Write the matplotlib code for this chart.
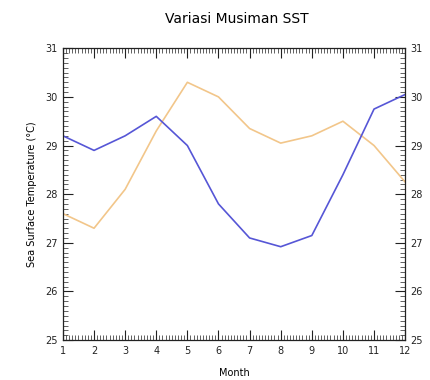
import matplotlib
matplotlib.use("Agg")
import matplotlib.pyplot as plt
from matplotlib.ticker import MultipleLocator

months = [1, 2, 3, 4, 5, 6, 7, 8, 9, 10, 11, 12]
sst_blue = [29.2, 28.9, 29.2, 29.6, 29.0, 27.8, 27.1, 26.92, 27.15, 28.4, 29.75, 30.05]
sst_orange = [27.6, 27.3, 28.1, 29.3, 30.3, 30.0, 29.35, 29.05, 29.2, 29.5, 29.0, 28.25]
x_ticks = months
y_ticks = [25, 26, 27, 28, 29, 30, 31]

fig = plt.figure(figsize=(4.31, 3.80), dpi=100)
ax = fig.add_axes([0.146, 0.105, 0.794, 0.768])

ax.plot(months, sst_orange, color="#f2c68a", lw=1.2)
ax.plot(months, sst_blue, color="#5656d6", lw=1.2)

ax.set_xlim(1, 12)
ax.set_ylim(25, 31)
ax.set_xticks(x_ticks)
ax.set_yticks(y_ticks)
ax.xaxis.set_minor_locator(MultipleLocator(0.1))
ax.yaxis.set_minor_locator(MultipleLocator(0.1))
ax.tick_params(which="both", direction="in", top=True, right=True,
               labelright=True, labelsize=7, colors="#222222", pad=4)
ax.tick_params(which="major", length=7, width=0.8)
ax.tick_params(which="minor", length=3.5, width=0.5)
for s in ax.spines.values():
    s.set_linewidth(0.9)
    s.set_color("#222222")

ax.set_xlabel("Month", fontsize=7, labelpad=9)
ax.set_ylabel("Sea Surface Temperature (\u00b0C)", fontsize=7, labelpad=6)
fig.text(0.55, 0.95, "Variasi Musiman SST", ha="center", va="center", fontsize=10)

fig.savefig("out.png", dpi=100)
